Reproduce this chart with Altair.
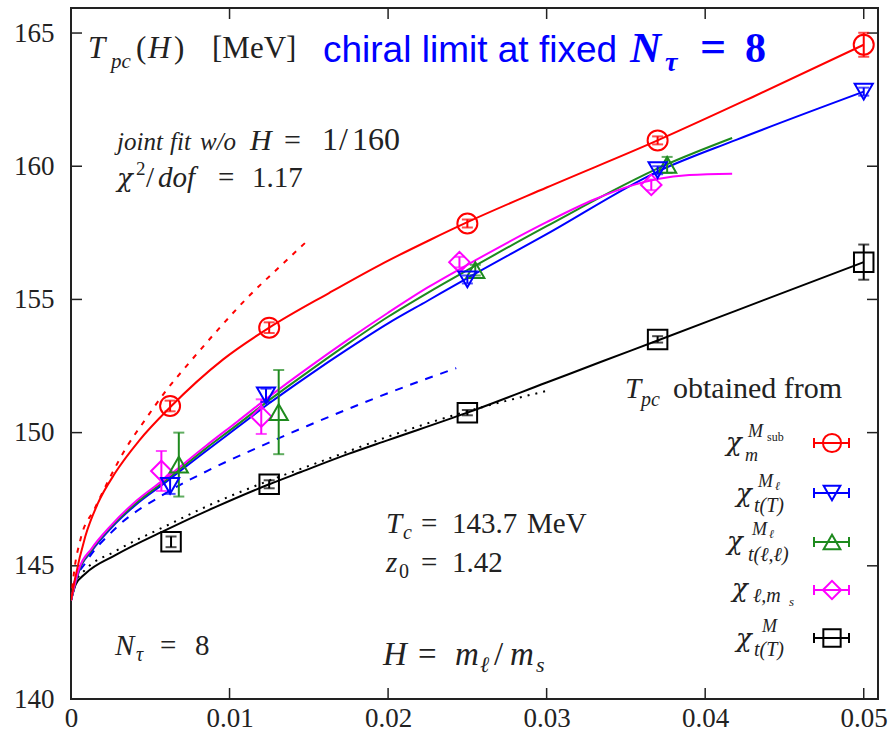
import altair as alt
import pandas as pd

# ---------------- data ----------------
red_x = [0.00625, 0.0125, 0.025, 0.037, 0.05]
red_y = [151.0, 153.94, 157.85, 160.97, 164.56]
red_err = [0.2, 0.2, 0.15, 0.15, 0.45]

blue_x = [0.00625, 0.0123, 0.025, 0.037, 0.05]
blue_y = [148.0, 151.4, 155.75, 159.85, 162.8]
blue_err = [0.3, 0.25, 0.15, 0.15, 0.15]

green_x = [0.0068, 0.0131, 0.0255, 0.0376]
green_y = [148.8, 150.77, 156.1, 160.05]
green_err = [1.2, 1.58, 0.2, 0.3]

magenta_x = [0.0057, 0.012, 0.0245, 0.0366]
magenta_y = [148.56, 150.6, 156.4, 159.3]
magenta_err = [0.75, 0.65, 0.2, 0.2]

black_x = [0.00631, 0.0125, 0.025, 0.037, 0.05]
black_y = [145.9, 148.06, 150.75, 153.5, 156.4]
black_err = [0.2, 0.15, 0.1, 0.12, 0.66]

# fit curves
red_fit_x = [0, 0.00025, 0.0009, 0.0017, 0.0028, 0.0043, 0.00625, 0.0096, 0.0125, 0.0163, 0.0195, 0.0227, 0.025, 0.03, 0.037, 0.043, 0.05]
red_fit_y = [143.7, 144.5, 146.1, 147.35, 148.5, 149.7, 150.95, 152.75, 153.94, 155.25, 156.3, 157.25, 157.9, 159.2, 160.97, 162.6, 164.56]

red_lo_x = [0, 0.0002, 0.0006, 0.0015, 0.0024, 0.0034, 0.0047, 0.0059, 0.0075, 0.0094, 0.0111, 0.0132, 0.015]
red_lo_y = [143.7, 144.8, 146.0, 147.15, 148.25, 149.35, 150.5, 151.5, 152.65, 153.95, 155.05, 156.25, 157.25]

blue_fit_x = [0, 0.0005, 0.0013, 0.0025, 0.004, 0.006, 0.0085, 0.0105, 0.0125, 0.015, 0.0175, 0.02, 0.0225, 0.025, 0.03, 0.037, 0.042, 0.05]
blue_fit_y = [143.7, 144.8, 145.55, 146.4, 147.25, 148.15, 149.3, 150.2, 151.1, 152.15, 153.15, 154.1, 154.95, 155.8, 157.45, 159.8, 161.0, 162.8]

blue_lo_x = [0, 0.0002, 0.0009, 0.0028, 0.0059, 0.0089, 0.0122, 0.0149, 0.019, 0.0221, 0.0243]
blue_lo_y = [143.7, 144.35, 145.1, 146.4, 147.7, 148.65, 149.55, 150.25, 151.25, 151.95, 152.42]

green_fit_x = [0, 0.0005, 0.0013, 0.0025, 0.004, 0.006, 0.0085, 0.0105, 0.0125, 0.015, 0.0175, 0.02, 0.0225, 0.025, 0.03, 0.0375, 0.0417]
green_fit_y = [143.7, 144.82, 145.6, 146.45, 147.3, 148.22, 149.4, 150.3, 151.22, 152.3, 153.35, 154.35, 155.25, 156.1, 157.75, 160.05, 161.06]

magenta_fit_x = [0, 0.0005, 0.0013, 0.0025, 0.004, 0.006, 0.0085, 0.0105, 0.0125, 0.015, 0.0175, 0.02, 0.0225, 0.025, 0.03, 0.033, 0.0355, 0.037, 0.039, 0.0417]
magenta_fit_y = [143.7, 144.88, 145.65, 146.5, 147.38, 148.3, 149.5, 150.42, 151.35, 152.45, 153.5, 154.5, 155.45, 156.3, 157.9, 158.75, 159.3, 159.52, 159.67, 159.72]

black_fit_x = [0, 0.0003, 0.0009, 0.0028, 0.006, 0.0091, 0.0125, 0.0145, 0.0175, 0.02, 0.025, 0.03, 0.0334, 0.037, 0.042, 0.05]
black_fit_y = [143.7, 144.3, 144.7, 145.4, 146.35, 147.2, 148.06, 148.52, 149.2, 149.72, 150.75, 151.88, 152.65, 153.46, 154.59, 156.4]

black_lo_x = [0, 0.0003, 0.0009, 0.0028, 0.006, 0.009, 0.0125, 0.015, 0.0175, 0.02, 0.025, 0.0299]
black_lo_y = [143.7, 144.4, 144.85, 145.55, 146.5, 147.35, 148.2, 148.75, 149.3, 149.85, 150.8, 151.55]

x_ticks = [0, 0.01, 0.02, 0.03, 0.04, 0.05]
y_ticks = [140, 145, 150, 155, 160, 165]

# ---------------- layout ----------------
W, H = 807, 691
OX, OY = 71, 8
SERIF = "Liberation Serif"
GREEK = "DejaVu Serif"
INK = "#222222"
RED, BLUE, GREEN, MAG, BLK = "#ff0000", "#0000ff", "#1e8a1e", "#ff00ff", "#000000"

xs = alt.Scale(domain=[0, 0.0509], nice=False, zero=False)
ys = alt.Scale(domain=[140, 165.94], nice=False, zero=False)

AXX = alt.Axis(values=x_ticks, format=".2~f", ticks=False, domain=False, grid=False, labelFont=SERIF,
               labelFontSize=27, labelColor=INK, labelPadding=6, labelOverlap=False, labelFlush=False, title=None)
AXY = alt.Axis(values=y_ticks, format="d", ticks=False, domain=False, grid=False, labelFont=SERIF,
               labelFontSize=27, labelColor=INK, labelPadding=17, labelOverlap=False, labelFlush=False, title=None)


def X(f="x"):
    return alt.X(f"{f}:Q", scale=xs, axis=AXX)


def Y(f="y"):
    return alt.Y(f"{f}:Q", scale=ys, axis=AXY)


layers = []

# inward ticks on all four sides
ytd = pd.DataFrame({"v": y_ticks[1:]})
xtd = pd.DataFrame({"v": x_ticks[1:]})
layers.append(alt.Chart(ytd).mark_rule(color=INK, strokeWidth=1.5).encode(y=Y("v"), x=alt.value(0), x2=alt.value(11)))
layers.append(alt.Chart(ytd).mark_rule(color=INK, strokeWidth=1.5).encode(y=Y("v"), x=alt.value(W - 11), x2=alt.value(W)))
layers.append(alt.Chart(xtd).mark_rule(color=INK, strokeWidth=1.5).encode(x=X("v"), y=alt.value(H - 11), y2=alt.value(H)))
layers.append(alt.Chart(xtd).mark_rule(color=INK, strokeWidth=1.5).encode(x=X("v"), y=alt.value(0), y2=alt.value(11)))


def curve(xv, yv, color, dash=None, width=2):
    kw = dict(color=color, strokeWidth=width, interpolate="monotone", clip=True)
    if dash:
        kw["strokeDash"] = dash
    return alt.Chart(pd.DataFrame({"x": xv, "y": yv})).mark_line(**kw).encode(x=X(), y=Y())


layers += [
    curve(black_lo_x, black_lo_y, BLK, dash=[2, 6], width=2),
    curve(black_fit_x, black_fit_y, BLK),
    curve(blue_lo_x, blue_lo_y, BLUE, dash=[8, 8]),
    curve(red_lo_x, red_lo_y, RED, dash=[5, 7]),
    curve(blue_fit_x, blue_fit_y, BLUE),
    curve(green_fit_x, green_fit_y, GREEN),
    curve(magenta_fit_x, magenta_fit_y, MAG),
    curve(red_fit_x, red_fit_y, RED),
]


def series(xv, yv, ev, color, shape, size):
    df = pd.DataFrame({"x": xv, "y": yv,
                       "lo": [a - b for a, b in zip(yv, ev)],
                       "hi": [a + b for a, b in zip(yv, ev)]})
    b = alt.Chart(df)
    return [
        b.mark_rule(color=color, strokeWidth=2).encode(x=X(), y=Y("lo"), y2="hi:Q"),
        b.mark_tick(color=color, thickness=2, size=11, orient="horizontal").encode(x=X(), y=Y("lo")),
        b.mark_tick(color=color, thickness=2, size=11, orient="horizontal").encode(x=X(), y=Y("hi")),
        b.mark_point(shape=shape, size=size, color=color, strokeWidth=2, filled=False, opacity=1).encode(x=X(), y=Y()),
    ]


layers += series(black_x, black_y, black_err, BLK, "square", 380)
layers += series(magenta_x, magenta_y, magenta_err, MAG, "diamond", 420)
layers += series(green_x, green_y, green_err, GREEN, "triangle-up", 330)
layers += series(blue_x, blue_y, blue_err, BLUE, "triangle-down", 330)
layers += series(red_x, red_y, red_err, RED, "circle", 400)


# ---------------- text ----------------
def T(s, x, y, size=28, italic=False, bold=False, color=INK, font=SERIF):
    return alt.Chart(alt.Data(values=[{"a": 1}])).mark_text(
        text=s, font=font, fontSize=size, fontStyle="italic" if italic else "normal",
        fontWeight="bold" if bold else "normal", color=color, align="left", baseline="alphabetic"
    ).encode(x=alt.value(x - OX), y=alt.value(y - OY))


texts = [
    # T_pc(H) [MeV]
    T("T", 88, 58, 31, italic=True), T("pc", 111, 68, 21, italic=True),
    T("(", 136, 58, 31), T("H", 148, 58, 31, italic=True), T(")", 174, 58, 31), T("[MeV]", 212, 58, 31),
    # blue heading
    T("chiral limit at fixed", 323, 62, 37, color=BLUE, font="Liberation Sans"),
    T("N", 630, 62, 43, italic=True, bold=True, color=BLUE),
    T("τ", 665, 71, 28, italic=True, bold=True, color=BLUE),
    T("=", 700, 62, 46, bold=True, color=BLUE),
    T("8", 745, 62, 42, bold=True, color=BLUE),
    # joint fit
    T("joint", 117, 150, 25, italic=True), T("fit", 170, 150, 25, italic=True), T("w/o", 200, 150, 25, italic=True),
    T("H", 250, 150, 30, italic=True), T("=", 284, 150, 30), T("1", 322, 150, 32), T("/", 339, 150, 32),
    T("160", 352, 150, 32),
    T("χ", 117, 187, 26, italic=True, font=GREEK), T("2", 136, 175, 19), T("/", 146, 187, 29),
    T("dof", 158, 187, 29, italic=True), T("=", 218, 187, 29), T("1.17", 252, 187, 29),
    # legend header
    T("T", 625, 398, 29, italic=True), T("pc", 641, 406, 20, italic=True), T("obtained from", 673, 398, 30),
    # Tc, z0
    T("T", 386, 533, 29, italic=True), T("c", 403, 539, 20, italic=True), T("=", 421, 533, 29),
    T("143.7", 452, 533, 29), T("MeV", 527, 533, 29),
    T("z", 386, 572, 29, italic=True), T("0", 399, 578, 20), T("=", 421, 572, 29), T("1.42", 452, 572, 29),
    # N_tau = 8
    T("N", 115, 655, 29, italic=True), T("τ", 136, 661, 20, italic=True), T("=", 160, 655, 29), T("8", 195, 655, 29),
    # H = m_l/m_s
    T("H", 383, 665, 33, italic=True), T("=", 418, 665, 33), T("m", 455, 665, 33, italic=True),
    T("ℓ", 480, 672, 22, italic=True), T("/", 494, 665, 33), T("m", 510, 665, 33, italic=True),
    T("s", 536, 672, 22, italic=True),
    # legend labels
    T("χ", 726, 451, 26, italic=True, font=GREEK), T("m", 745, 461, 18, italic=True), T("M", 748, 437, 18, italic=True),
    T("sub", 767, 441, 12),
    T("χ", 736, 502, 26, italic=True, font=GREEK), T("t(T)", 754, 512, 20, italic=True), T("M", 758, 487, 18, italic=True),
    T("ℓ", 775, 490, 12, italic=True),
    T("χ", 727, 550, 26, italic=True, font=GREEK), T("t(ℓ,ℓ)", 748, 561, 20, italic=True), T("M", 752, 535, 18, italic=True),
    T("ℓ", 769, 538, 12, italic=True),
    T("χ", 732, 597, 26, italic=True, font=GREEK), T("ℓ,m", 753, 602, 20, italic=True), T("s", 789, 606, 13, italic=True),
    T("χ", 736, 647, 26, italic=True, font=GREEK), T("t(T)", 754, 656, 20, italic=True), T("M", 762, 632, 18, italic=True),
]
layers += texts

# legend samples
leg = [(443, RED, "circle", 330), (493, BLUE, "triangle-down", 280), (542, GREEN, "triangle-up", 280),
       (590, MAG, "diamond", 330), (638, BLK, "square", 300)]
one = alt.Data(values=[{"a": 1}])
for cy, col, shp, sz in leg:
    yy = cy - OY
    layers.append(alt.Chart(one).mark_rule(color=col, strokeWidth=2).encode(
        x=alt.value(814 - OX), x2=alt.value(849 - OX), y=alt.value(yy)))
    for xx in (814, 849):
        layers.append(alt.Chart(one).mark_rule(color=col, strokeWidth=2).encode(
            x=alt.value(xx - OX), y=alt.value(yy - 5), y2=alt.value(yy + 5)))
    layers.append(alt.Chart(one).mark_point(shape=shp, size=sz, color=col, strokeWidth=2, filled=False,
                                            opacity=1).encode(x=alt.value(832 - OX), y=alt.value(yy)))

chart = alt.layer(*layers).properties(
    width=W, height=H,
    padding={"left": OX, "top": OY, "right": 890 - OX - W, "bottom": 739 - OY - H},
    autosize=alt.AutoSizeParams(type="none"),
    background="white",
).configure_view(stroke=INK, strokeWidth=2)

chart.save("out.html", embed_options={"renderer": "svg", "actions": False})
